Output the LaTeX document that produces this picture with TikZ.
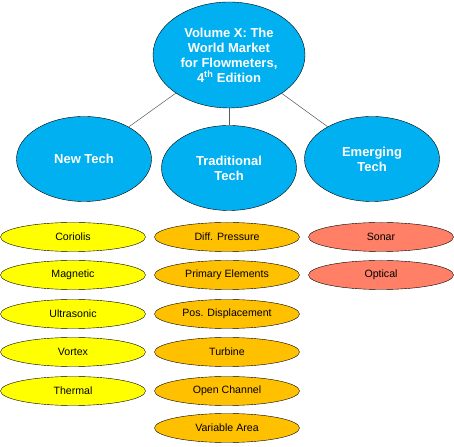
\documentclass[tikz,border=0pt]{standalone}
\usepackage{fontspec}
\setmainfont{Liberation Sans}
\usetikzlibrary{shapes.geometric}
\definecolor{hubblue}{RGB}{0,176,240}
\definecolor{newyel}{RGB}{255,255,0}
\definecolor{tradorg}{RGB}{255,192,0}
\definecolor{emsalmon}{RGB}{255,128,102}
\begin{document}
\begin{tikzpicture}[x=1pt,y=1pt,
  hub/.style={draw,ellipse,fill=hubblue,text=white,inner sep=0pt,align=center,font=\fontsize{13}{15}\selectfont\bfseries},
  leaf/.style={draw,ellipse,minimum width=145pt,minimum height=29pt,inner sep=0pt,font=\fontsize{10.6}{12}\selectfont},
  link/.style={draw=black!65,line width=0.5pt}]
\useasboundingbox (0,0) rectangle (454,446);
\node[hub,minimum width=152pt,minimum height=106pt] (top) at (229,391) {Volume X: The\\World Market\\for Flowmeters,\\4\textsuperscript{th} Edition};
\node[hub,minimum width=135pt,minimum height=85pt] (new) at (84,287) {New Tech};
\node[hub,minimum width=135pt,minimum height=85pt] (trad) at (229,278) {Traditional\\Tech};
\node[hub,minimum width=135pt,minimum height=85pt] (emer) at (372,287) {Emerging\\Tech};
\draw[link] (top)--(new);
\draw[link] (top)--(trad);
\draw[link] (top)--(emer);
% new technologies
\node[leaf,fill=newyel] (n1) at (73,209) {Coriolis};
\node[leaf,fill=newyel] (n2) at (73,171) {Magnetic};
\node[leaf,fill=newyel] (n3) at (73,132) {Ultrasonic};
\node[leaf,fill=newyel] (n4) at (73,94) {Vortex};
\node[leaf,fill=newyel] (n5) at (73,55) {Thermal};
% traditional technologies
\node[leaf,fill=tradorg] (t1) at (227,209) {Diff. Pressure};
\node[leaf,fill=tradorg] (t2) at (227,171) {Primary Elements};
\node[leaf,fill=tradorg] (t3) at (227,132) {Pos. Displacement};
\node[leaf,fill=tradorg] (t4) at (227,94) {Turbine};
\node[leaf,fill=tradorg] (t5) at (227,55) {Open Channel};
\node[leaf,fill=tradorg] (t6) at (227,18) {Variable Area};
% emerging technologies
\node[leaf,fill=emsalmon] (e1) at (381,209) {Sonar};
\node[leaf,fill=emsalmon] (e2) at (381,171) {Optical};
\end{tikzpicture}
\end{document}
